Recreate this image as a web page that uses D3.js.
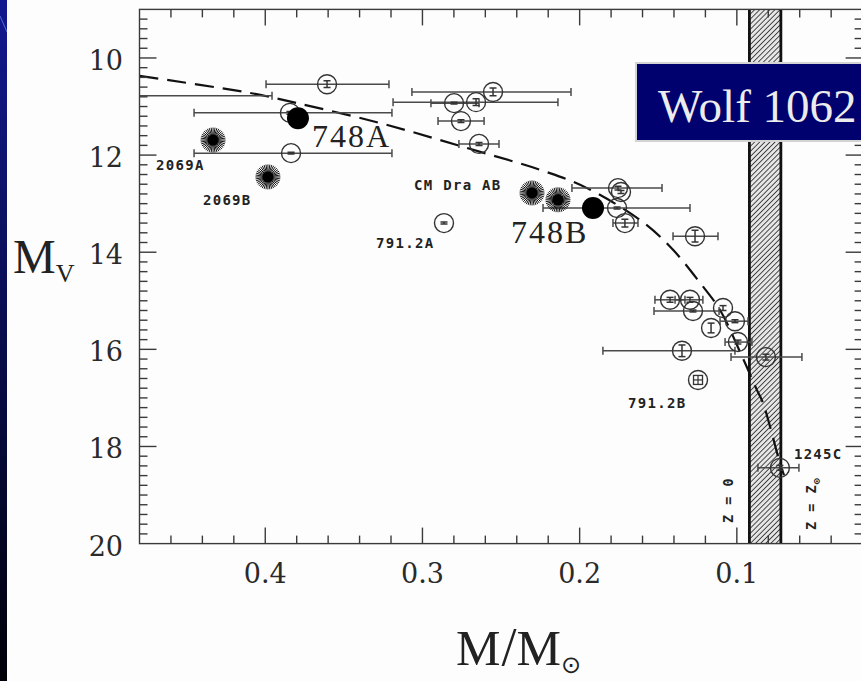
<!DOCTYPE html>
<html>
<head>
<meta charset="utf-8">
<script src="https://cdn.jsdelivr.net/npm/d3@7"></script>
<style>
  html, body { margin: 0; padding: 0; background: #000; }
  svg { display: block; }
</style>
</head>
<body>
<svg width="861" height="681"></svg>
<script>
"use strict";

// open circles: mass, Mv, mass error range [hi mass, lo mass], Mv error
const obsMass = [0.52, 0.3843, 0.3836, 0.3607, 0.2551, 0.2799, 0.2659, 0.2755, 0.264, 0.2863,
  0.1756, 0.1737, 0.1762, 0.1712, 0.1266, 0.1425, 0.1298, 0.1279, 0.1088, 0.1012,
  0.1164, 0.0993, 0.1349, 0.0815, 0.0726];
const obsMv = [10.78, 11.13, 11.96, 10.54, 10.70, 10.93, 10.91, 11.30, 11.77, 13.40,
  12.68, 12.76, 13.09, 13.40, 13.67, 14.98, 14.98, 15.21, 15.15, 15.42,
  15.56, 15.85, 16.03, 16.16, 18.44];
const obsMassHi = [0.65, 0.4453, 0.4453, 0.3995, 0.3067, 0.2946, 0.3187, 0.2901, 0.2768, null,
  0.2049, null, 0.2233, 0.1788, 0.1406, 0.1521, 0.1393, 0.1527, null, 0.1107,
  null, 0.1075, 0.1852, 0.1037, 0.0866];
const obsMassLo = [0.3957, 0.3194, 0.3194, 0.3213, 0.2055, 0.264, 0.2138, 0.2608, 0.2513, null,
  0.1476, null, 0.1298, 0.1629, 0.112, 0.133, 0.1216, 0.1113, null, 0.0929,
  null, 0.0904, 0.1012, 0.0586, 0.0605];
const obsMvErr = [0.05, 0.03, 0.02, 0.07, 0.08, 0.02, 0.07, 0.03, 0.03, 0.02,
  0.04, 0.03, 0.02, 0.08, 0.12, 0.05, 0.05, 0.02, 0.05, 0.03,
  0.1, 0.04, 0.12, 0.06, 0.05];

// Wolf 1062 (Gl 748) components
const filledMass = [0.3792, 0.1915];
const filledMv = [11.24, 13.09];

// eclipsing binaries (stars)
const starMass = [0.4332, 0.3983, 0.2303, 0.2138];
const starMv = [11.69, 12.45, 12.78, 12.92];

// 791.2B (box marker)
const boxMass = [0.1247];
const boxMv = [16.63];

// model relation (dashed)
const curveMass = [0.48, 0.4097, 0.3798, 0.327, 0.2742, 0.2208, 0.1953, 0.1597, 0.1406,
  0.1234, 0.1107, 0.098, 0.0872, 0.0834, 0.0726, 0.070];
const curveMv = [10.37, 10.72, 10.93, 11.34, 11.83, 12.35, 12.68, 13.38, 13.95,
  14.63, 15.19, 16.05, 16.84, 17.10, 18.34, 18.59];

// hydrogen burning limit band
const bandMass = [0.092, 0.072];

const yTicks = [10, 12, 14, 16, 18, 20];
const xTicks = [0.4, 0.3, 0.2, 0.1];

const labels = [
  { text: "2069A", m: 0.4332, mv: 11.69, dx: -57, dy: 30 },
  { text: "2069B", m: 0.3983, mv: 12.45, dx: -65, dy: 28 },
  { text: "CM Dra AB", m: 0.2303, mv: 12.78, dx: -118, dy: -3 },
  { text: "791.2A", m: 0.2863, mv: 13.40, dx: -68, dy: 25 },
  { text: "791.2B", m: 0.1247, mv: 16.63, dx: -70, dy: 28 },
  { text: "1245C", m: 0.0726, mv: 18.44, dx: 14, dy: -9 }
];
const bigLabels = [
  { text: "748A", m: 0.3792, mv: 11.24, dx: 14, dy: 29 },
  { text: "748B", m: 0.1915, mv: 13.09, dx: -82, dy: 35 }
];

const svg = d3.select("svg");
const width = 861;
const height = 681;

const x = d3.scaleLinear().domain([0.48, 0.02]).range([139.5, 862.6]);
const y = d3.scaleLinear().domain([9, 20]).range([9.4, 543.6]);

// slide background
const defs = svg.append("defs");
const grad = defs.append("linearGradient").attr("id", "bg").attr("x1", 0).attr("y1", 0).attr("x2", 0).attr("y2", 1);
grad.append("stop").attr("offset", "0%").attr("stop-color", "#12198f");
grad.append("stop").attr("offset", "100%").attr("stop-color", "#000008");
svg.append("rect").attr("width", width).attr("height", height).attr("fill", "url(#bg)");
svg.append("line").attr("x1", 0).attr("y1", 16).attr("x2", 7).attr("y2", 32)
  .attr("stroke", "#4d6fd0").attr("stroke-width", 1);
svg.append("rect").attr("x", 7).attr("y", 0).attr("width", width - 7).attr("height", height).attr("fill", "#fdfdfd");

const hatch = defs.append("pattern").attr("id", "hatch").attr("patternUnits", "userSpaceOnUse")
  .attr("width", 3.6).attr("height", 3.6).attr("patternTransform", "rotate(45)");
hatch.append("rect").attr("width", 3.6).attr("height", 3.6).attr("fill", "#e6e6e6");
hatch.append("line").attr("x1", 0).attr("y1", 0).attr("x2", 0).attr("y2", 3.6)
  .attr("stroke", "#222").attr("stroke-width", 1.6);

defs.append("clipPath").attr("id", "plotClip").append("rect")
  .attr("x", x(0.48)).attr("y", y(9)).attr("width", x(0.02) - x(0.48)).attr("height", y(20) - y(9));

const plot = svg.append("g").attr("clip-path", "url(#plotClip)");

// band
plot.append("rect")
  .attr("x", x(bandMass[0])).attr("y", y(9))
  .attr("width", x(bandMass[1]) - x(bandMass[0])).attr("height", y(20) - y(9))
  .attr("fill", "url(#hatch)");
bandMass.forEach(m => {
  plot.append("line").attr("x1", x(m)).attr("x2", x(m)).attr("y1", y(9)).attr("y2", y(20))
    .attr("stroke", "#111").attr("stroke-width", 2.8);
});

// axes: ticks inside on all four sides
const ink = "#3a3a3a";
const axisG = svg.append("g").attr("stroke", ink).attr("stroke-width", 1.4).attr("fill", "none");
axisG.append("rect").attr("x", x(0.48)).attr("y", y(9))
  .attr("width", x(0.02) - x(0.48)).attr("height", y(20) - y(9));

const xMinor = d3.range(0.46, 0.02, -0.02).map(v => +v.toFixed(2));
const yMinor = d3.range(9.2, 20, 0.2).map(v => +v.toFixed(1));
const isMajorX = v => Math.abs(v * 10 - Math.round(v * 10)) < 1e-6;
const isMajorY = v => Math.abs(v / 2 - Math.round(v / 2)) < 1e-6;

xMinor.forEach(v => {
  const len = isMajorX(v) ? 16 : 8;
  axisG.append("line").attr("x1", x(v)).attr("x2", x(v)).attr("y1", y(20)).attr("y2", y(20) - len);
  axisG.append("line").attr("x1", x(v)).attr("x2", x(v)).attr("y1", y(9)).attr("y2", y(9) + len);
});
yMinor.forEach(v => {
  const len = isMajorY(v) ? 17 : 8;
  axisG.append("line").attr("x1", x(0.48)).attr("x2", x(0.48) + len).attr("y1", y(v)).attr("y2", y(v));
  axisG.append("line").attr("x1", x(0.02)).attr("x2", x(0.02) - len).attr("y1", y(v)).attr("y2", y(v));
});

const tickFont = "'DejaVu Serif', serif";
svg.append("g").selectAll("text").data(yTicks).enter().append("text")
  .attr("x", 123).attr("y", d => y(d) + 12)
  .attr("text-anchor", "end").attr("font-family", tickFont).attr("font-size", 27)
  .attr("fill", "#2a2a2a").text(d => d);
svg.append("g").selectAll("text").data(xTicks).enter().append("text")
  .attr("x", d => x(d)).attr("y", 583)
  .attr("text-anchor", "middle").attr("font-family", tickFont).attr("font-size", 27)
  .attr("fill", "#2a2a2a").text(d => d3.format(".1f")(d));

// axis titles
const yTitle = svg.append("text").attr("x", 13).attr("y", 273)
  .attr("font-family", "'Liberation Serif', serif").attr("fill", "#222");
yTitle.append("tspan").attr("font-size", 48).text("M");
yTitle.append("tspan").attr("font-size", 26).attr("dy", 9).text("V");

const xTitle = svg.append("text").attr("x", 456).attr("y", 665)
  .attr("font-family", "'Liberation Serif', serif").attr("fill", "#222");
xTitle.append("tspan").attr("font-size", 50).text("M");
xTitle.append("tspan").attr("font-size", 54).attr("dx", 1).text("/");
xTitle.append("tspan").attr("font-size", 50).text("M");
xTitle.append("tspan").attr("font-size", 24).attr("dy", 8).attr("font-family", "'DejaVu Sans', sans-serif").text("⊙");

// dashed model line
const line = d3.line().x(d => x(d[0])).y(d => y(d[1])).curve(d3.curveCatmullRom);
plot.append("path")
  .datum(curveMass.map((m, i) => [m, curveMv[i]]))
  .attr("d", line).attr("fill", "none").attr("stroke", "#111")
  .attr("stroke-width", 2.2).attr("stroke-dasharray", "19 9");

// error bars and open circles
const obs = obsMass.map((m, i) => ({ m, mv: obsMv[i], hi: obsMassHi[i], lo: obsMassLo[i], err: obsMvErr[i] }));
const eb = plot.append("g").attr("stroke", "#4a4a4a").attr("stroke-width", 1.5);
obs.filter(d => d.hi !== null).forEach(d => {
  eb.append("line").attr("x1", x(d.hi)).attr("x2", x(d.lo)).attr("y1", y(d.mv)).attr("y2", y(d.mv));
  [d.hi, d.lo].forEach(v => {
    eb.append("line").attr("x1", x(v)).attr("x2", x(v)).attr("y1", y(d.mv) - 4).attr("y2", y(d.mv) + 4);
  });
});

const circ = plot.append("g").attr("stroke", "#333").attr("fill", "none");
obs.forEach(d => {
  const cx = x(d.m), cy = y(d.mv);
  circ.append("circle").attr("cx", cx).attr("cy", cy).attr("r", 9.5).attr("stroke-width", 1.4);
  const h = Math.max(y(d.mv + d.err) - cy, 0.8);
  circ.append("line").attr("x1", cx).attr("x2", cx).attr("y1", cy - h).attr("y2", cy + h).attr("stroke-width", 1.5);
  [-h, h].forEach(o => {
    circ.append("line").attr("x1", cx - 3.5).attr("x2", cx + 3.5).attr("y1", cy + o).attr("y2", cy + o).attr("stroke-width", 1.5);
  });
});

// box marker
boxMass.forEach((m, i) => {
  const cx = x(m), cy = y(boxMv[i]);
  circ.append("circle").attr("cx", cx).attr("cy", cy).attr("r", 9.5).attr("stroke-width", 1.4);
  circ.append("rect").attr("x", cx - 4.5).attr("y", cy - 4.5).attr("width", 9).attr("height", 9).attr("stroke-width", 1.3);
  circ.append("line").attr("x1", cx - 4.5).attr("x2", cx + 4.5).attr("y1", cy).attr("y2", cy).attr("stroke-width", 1.2);
  circ.append("line").attr("x1", cx).attr("x2", cx).attr("y1", cy - 4.5).attr("y2", cy + 4.5).attr("stroke-width", 1.2);
});

// stars
const starG = plot.append("g");
starMass.forEach((m, i) => {
  const cx = x(m), cy = y(starMv[i]);
  d3.range(40).forEach(k => {
    const a = (k / 40) * 2 * Math.PI;
    starG.append("line").attr("x1", cx).attr("y1", cy)
      .attr("x2", cx + 12.5 * Math.cos(a)).attr("y2", cy + 12.5 * Math.sin(a))
      .attr("stroke", "#111").attr("stroke-width", 1);
  });
  starG.append("circle").attr("cx", cx).attr("cy", cy).attr("r", 5.5).attr("fill", "#000");
});

// Wolf 1062 components
plot.append("g").selectAll("circle").data(filledMass).enter().append("circle")
  .attr("cx", d => x(d)).attr("cy", (d, i) => y(filledMv[i])).attr("r", 11).attr("fill", "#000");

// labels
svg.append("g").selectAll("text").data(labels).enter().append("text")
  .attr("x", d => x(d.m) + d.dx).attr("y", d => y(d.mv) + d.dy)
  .attr("font-family", "'DejaVu Sans Mono', monospace").attr("font-weight", "bold")
  .attr("font-size", 14).attr("letter-spacing", 1.3).attr("fill", "#222").text(d => d.text);
svg.append("g").selectAll("text").data(bigLabels).enter().append("text")
  .attr("x", d => x(d.m) + d.dx).attr("y", d => y(d.mv) + d.dy)
  .attr("font-family", "'Liberation Serif', serif").attr("font-size", 32)
  .attr("letter-spacing", 2).attr("fill", "#222").text(d => d.text);

const zLab = svg.append("g").attr("font-family", "'DejaVu Sans Mono', monospace")
  .attr("font-weight", "bold").attr("font-size", 13.5).attr("fill", "#222").attr("letter-spacing", 1);
zLab.append("text").attr("transform", "translate(733,523) rotate(-90)").text("Z = 0");
const z2 = zLab.append("text").attr("transform", "translate(816,530) rotate(-90)");
z2.append("tspan").text("Z = Z");
z2.append("tspan").attr("font-size", 10).attr("dy", 4).text("⊙");

// title box
svg.append("rect").attr("x", 636).attr("y", 63).attr("width", 240).attr("height", 78)
  .attr("fill", "#00006e").attr("stroke", "#d4d4d4").attr("stroke-width", 2);
svg.append("text").attr("x", 658).attr("y", 122)
  .attr("font-family", "'Liberation Serif', serif").attr("font-size", 47)
  .attr("fill", "#ececec").text("Wolf 1062");
</script>
</body>
</html>
